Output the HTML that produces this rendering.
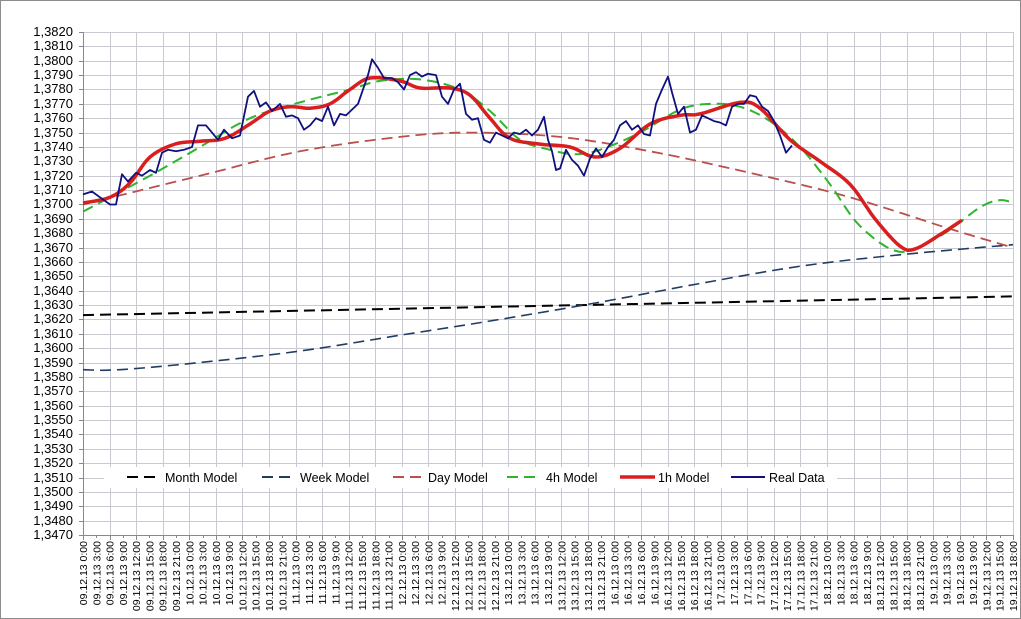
<!DOCTYPE html>
<html><head><meta charset="utf-8"><style>
html,body{margin:0;padding:0;background:#fff}
svg{display:block}
text{font-family:"Liberation Sans",sans-serif;fill:#000}
</style></head><body>
<svg id="s" width="1021" height="619" viewBox="0 0 1021 619" xmlns="http://www.w3.org/2000/svg">
<rect x="0.5" y="0.5" width="1020" height="618" fill="#fff" stroke="#8c8c8c"/>
<g id="grid" stroke="#c9c9d2" stroke-width="1"></g>
<g font-size="13" text-anchor="end">
<text x="73" y="36">1,3820</text><text x="73" y="50">1,3810</text><text x="73" y="65">1,3800</text><text x="73" y="79">1,3790</text><text x="73" y="93">1,3780</text><text x="73" y="108">1,3770</text><text x="73" y="122">1,3760</text><text x="73" y="137">1,3750</text><text x="73" y="151">1,3740</text><text x="73" y="165">1,3730</text><text x="73" y="180">1,3720</text><text x="73" y="194">1,3710</text><text x="73" y="208">1,3700</text><text x="73" y="223">1,3690</text><text x="73" y="237">1,3680</text><text x="73" y="252">1,3670</text><text x="73" y="266">1,3660</text><text x="73" y="280">1,3650</text><text x="73" y="295">1,3640</text><text x="73" y="309">1,3630</text><text x="73" y="323">1,3620</text><text x="73" y="338">1,3610</text><text x="73" y="352">1,3600</text><text x="73" y="367">1,3590</text><text x="73" y="381">1,3580</text><text x="73" y="395">1,3570</text><text x="73" y="410">1,3560</text><text x="73" y="424">1,3550</text><text x="73" y="438">1,3540</text><text x="73" y="453">1,3530</text><text x="73" y="467">1,3520</text><text x="73" y="482">1,3510</text><text x="73" y="496">1,3500</text><text x="73" y="510">1,3490</text><text x="73" y="525">1,3480</text><text x="73" y="539">1,3470</text>
</g>
<g id="xl" font-size="10.5" text-anchor="end">
<text>09.12.13 0:00</text><text>09.12.13 3:00</text><text>09.12.13 6:00</text><text>09.12.13 9:00</text><text>09.12.13 12:00</text><text>09.12.13 15:00</text><text>09.12.13 18:00</text><text>09.12.13 21:00</text>
<text>10.12.13 0:00</text><text>10.12.13 3:00</text><text>10.12.13 6:00</text><text>10.12.13 9:00</text><text>10.12.13 12:00</text><text>10.12.13 15:00</text><text>10.12.13 18:00</text><text>10.12.13 21:00</text>
<text>11.12.13 0:00</text><text>11.12.13 3:00</text><text>11.12.13 6:00</text><text>11.12.13 9:00</text><text>11.12.13 12:00</text><text>11.12.13 15:00</text><text>11.12.13 18:00</text><text>11.12.13 21:00</text>
<text>12.12.13 0:00</text><text>12.12.13 3:00</text><text>12.12.13 6:00</text><text>12.12.13 9:00</text><text>12.12.13 12:00</text><text>12.12.13 15:00</text><text>12.12.13 18:00</text><text>12.12.13 21:00</text>
<text>13.12.13 0:00</text><text>13.12.13 3:00</text><text>13.12.13 6:00</text><text>13.12.13 9:00</text><text>13.12.13 12:00</text><text>13.12.13 15:00</text><text>13.12.13 18:00</text><text>13.12.13 21:00</text>
<text>16.12.13 0:00</text><text>16.12.13 3:00</text><text>16.12.13 6:00</text><text>16.12.13 9:00</text><text>16.12.13 12:00</text><text>16.12.13 15:00</text><text>16.12.13 18:00</text><text>16.12.13 21:00</text>
<text>17.12.13 0:00</text><text>17.12.13 3:00</text><text>17.12.13 6:00</text><text>17.12.13 9:00</text><text>17.12.13 12:00</text><text>17.12.13 15:00</text><text>17.12.13 18:00</text><text>17.12.13 21:00</text>
<text>18.12.13 0:00</text><text>18.12.13 3:00</text><text>18.12.13 6:00</text><text>18.12.13 9:00</text><text>18.12.13 12:00</text><text>18.12.13 15:00</text><text>18.12.13 18:00</text><text>18.12.13 21:00</text>
<text>19.12.13 0:00</text><text>19.12.13 3:00</text><text>19.12.13 6:00</text><text>19.12.13 9:00</text><text>19.12.13 12:00</text><text>19.12.13 15:00</text><text>19.12.13 18:00</text>
</g>
<g id="series" fill="none" stroke-linejoin="round"></g>
<rect x="104" y="467" width="733" height="21" fill="#fff"/>
<g font-size="12.5">
<line x1="127" y1="477" x2="160" y2="477" stroke="#000" stroke-width="2" stroke-dasharray="11,6"/><text x="165" y="482">Month Model</text>
<line x1="262" y1="477" x2="295" y2="477" stroke="#1f3d63" stroke-width="2" stroke-dasharray="11,6"/><text x="300" y="482">Week Model</text>
<line x1="393" y1="477" x2="424" y2="477" stroke="#b9504c" stroke-width="2" stroke-dasharray="11,6"/><text x="428" y="482">Day Model</text>
<line x1="507" y1="477" x2="540" y2="477" stroke="#2db52d" stroke-width="2" stroke-dasharray="11,6"/><text x="546" y="482">4h Model</text>
<line x1="620" y1="477" x2="655" y2="477" stroke="#d81e1e" stroke-width="3.5"/><text x="658" y="482">1h Model</text>
<line x1="731" y1="477" x2="765" y2="477" stroke="#10107f" stroke-width="2"/><text x="769" y="482">Real Data</text>
</g>
</svg>
<script>
var NS="http://www.w3.org/2000/svg";
var g=document.getElementById("grid");
function ln(p,x1,y1,x2,y2,attrs){var l=document.createElementNS(NS,"line");l.setAttribute("x1",x1);l.setAttribute("y1",y1);l.setAttribute("x2",x2);l.setAttribute("y2",y2);if(attrs)for(var k in attrs)l.setAttribute(k,attrs[k]);p.appendChild(l);}
var X0=83,DX=13.286,Y0=32,DY=14.371;
for(var j=0;j<=35;j++){var y=Math.round(Y0+j*DY)+0.5;ln(g,X0,y,1013,y);ln(g,X0-4,y,X0,y,{stroke:"#888"});}
for(var i=0;i<=70;i++){var x=Math.round(X0+i*DX)+0.5;if(i%2==0&&i>0)ln(g,x,Y0,x,535);ln(g,x,535,x,(i%2==0)?540:538,{stroke:"#888"});}
ln(g,X0+0.5,Y0,X0+0.5,536,{stroke:"#888"});ln(g,X0,535.5,1013,535.5,{stroke:"#888"});
var t=document.getElementById("xl").children;
for(var i=0;i<t.length;i++){var x=X0+i*DX+4;t[i].setAttribute("transform","translate("+x.toFixed(1)+",541) rotate(-90)");}
function Y(v){return Y0+(1.3820-v)*10000*DY/10;}
function path(d,st,w,dash,smooth){var s="";for(var i=0;i<d.length;i+=2){s+=(i?"L":"M")+d[i]+","+Y(d[i+1]).toFixed(1);}
var p=document.createElementNS(NS,"path");p.setAttribute("d",s);p.setAttribute("stroke",st);p.setAttribute("stroke-width",w);if(dash)p.setAttribute("stroke-dasharray",dash);document.getElementById("series").appendChild(p);}
function spline(d,n){var out=[];var xs=[],ys=[];for(var i=0;i<d.length;i+=2){xs.push(d[i]);ys.push(d[i+1]);}
for(var i=0;i<xs.length-1;i++){var x0=xs[i-1]!==undefined?xs[i-1]:xs[i],y0=ys[i-1]!==undefined?ys[i-1]:ys[i];var x3=xs[i+2]!==undefined?xs[i+2]:xs[i+1],y3=ys[i+2]!==undefined?ys[i+2]:ys[i+1];
for(var k=0;k<n;k++){var u=k/n,u2=u*u,u3=u2*u;function cr(a,b,c,e){return 0.5*(2*b+(-a+c)*u+(2*a-5*b+4*c-e)*u2+(-a+3*b-3*c+e)*u3);}out.push(cr(x0,xs[i],xs[i+1],x3).toFixed(1),cr(y0,ys[i],ys[i+1],y3));}}
out.push(xs[xs.length-1],ys[ys.length-1]);return out;}
path([83,1.3623,1013,1.3636],"#000",2,"11,6");
path(spline([83,1.3585,120,1.3585,200,1.3590,300,1.3598,400,1.3609,500,1.3620,600,1.3632,700,1.3645,800,1.3657,900,1.3665,1013,1.3672],6),"#1f3d63",1.6,"11,6");
path(spline([83,1.3700,200,1.3720,300,1.3737,400,1.3747,470,1.3750,560,1.3747,650,1.3737,750,1.3722,850,1.3705,950,1.3683,1013,1.3670],6),"#b9504c",1.8,"11,6");
path(spline([83,1.3695,150,1.3720,200,1.3740,250,1.3760,300,1.3771,350,1.3780,380,1.3786,420,1.3787,460,1.3780,490,1.3765,520,1.3745,550,1.3738,575,1.3735,600,1.3738,640,1.3750,680,1.3766,710,1.3770,740,1.3768,770,1.3758,800,1.3740,830,1.3714,860,1.3685,900,1.3667,940,1.3678,980,1.3698,1000,1.3703,1013,1.3701],6),"#2db52d",2,"11,6");
path(spline([83,1.3701,110,1.3705,130,1.3715,150,1.3733,175,1.3742,200,1.3744,225,1.3746,250,1.3756,270,1.3765,290,1.3768,310,1.3767,330,1.3770,350,1.3780,370,1.3788,400,1.3786,420,1.3781,450,1.3781,470,1.3776,490,1.3760,510,1.3746,540,1.3742,570,1.3740,595,1.3733,620,1.3739,650,1.3756,680,1.3762,700,1.3763,740,1.3771,760,1.3767,790,1.3745,820,1.3730,850,1.3714,875,1.3690,900,1.3671,915,1.3669,940,1.3679,962,1.3689],6),"#d81e1e",3.5);
path([83,1.3707,92,1.3709,100,1.3705,110,1.3700,116,1.3700,122,1.3721,128,1.3716,136,1.3722,142,1.3720,150,1.3724,156,1.3722,162,1.3736,168,1.3738,176,1.3737,184,1.3738,192,1.3740,198,1.3755,206,1.3755,212,1.3750,218,1.3745,224,1.3752,232,1.3746,240,1.3748,248,1.3775,254,1.3779,260,1.3768,266,1.3771,272,1.3765,280,1.3770,286,1.3761,292,1.3762,298,1.3760,304,1.3752,310,1.3755,316,1.3760,322,1.3758,328,1.3768,334,1.3755,340,1.3763,346,1.3762,352,1.3766,358,1.3770,364,1.3782,368,1.3790,372,1.3801,378,1.3795,384,1.3788,392,1.3788,398,1.3785,404,1.3780,410,1.3790,416,1.3792,422,1.3789,428,1.3791,436,1.3790,442,1.3775,448,1.3770,454,1.3780,460,1.3784,466,1.3763,472,1.3759,478,1.3760,484,1.3745,490,1.3743,496,1.3750,502,1.3748,508,1.3746,514,1.3750,520,1.3749,526,1.3752,532,1.3748,538,1.3752,544,1.3761,548,1.3745,552,1.3737,556,1.3724,560,1.3725,566,1.3738,572,1.3731,578,1.3727,584,1.3720,590,1.3732,596,1.3739,602,1.3733,608,1.3740,614,1.3745,620,1.3755,626,1.3758,632,1.3752,638,1.3755,644,1.3749,650,1.3748,656,1.3770,662,1.3780,668,1.3789,672,1.3778,678,1.3763,684,1.3768,690,1.3750,696,1.3752,702,1.3762,708,1.3760,714,1.3758,720,1.3757,726,1.3755,732,1.3768,738,1.3770,744,1.3770,750,1.3776,756,1.3775,762,1.3768,768,1.3765,774,1.3758,780,1.3748,786,1.3736,792,1.3741],"#10107f",1.8);
</script>
</body></html>
